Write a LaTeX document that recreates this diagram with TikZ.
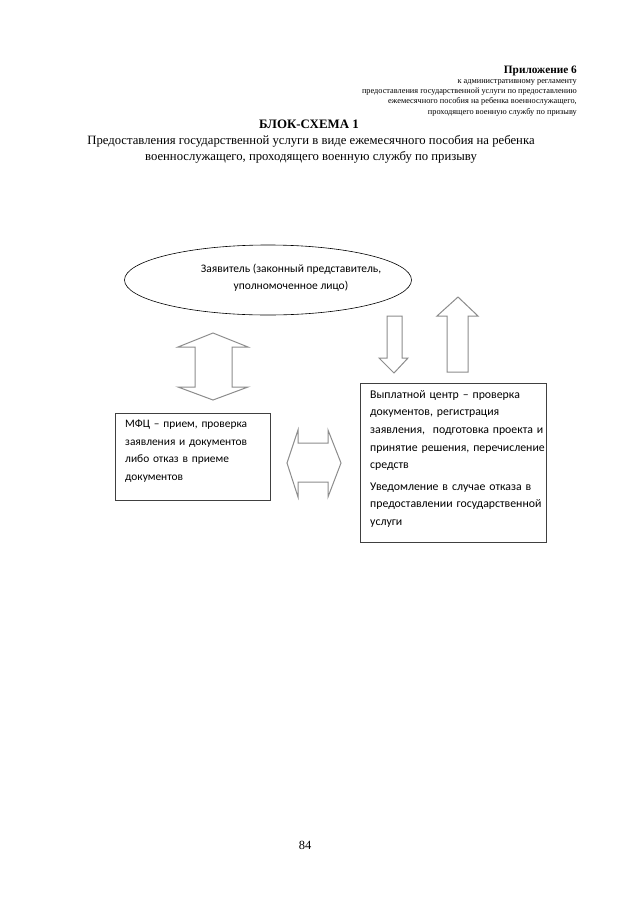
\documentclass[tikz,border=0pt]{standalone}
\usepackage{fontspec}
\setmainfont{Liberation Serif}
\newfontfamily\boxfont{Carlito}
\usetikzlibrary{shapes.geometric, positioning}
\definecolor{FrameGray}{rgb}{0.25, 0.25, 0.25}
\definecolor{ArrowGray}{rgb}{0.55, 0.55, 0.55}

\begin{document}
\begin{tikzpicture}[
    x=1pt, y=-1pt,
    frame/.style={draw=FrameGray, line width=0.7pt, inner sep=0pt, anchor=north west},
    boxtext/.style={anchor=north west, inner sep=0pt, align=left, text width=175pt,
        font=\boxfont\fontsize{11.8}{17.7}\selectfont},
    hollow/.style={draw=ArrowGray, line width=1pt, fill=white, line join=miter},
]
\useasboundingbox (0,0) rectangle (640,905);

% ---- header ----
\node[anchor=east, inner sep=0pt, font=\bfseries\fontsize{11.3}{12}\selectfont] (annex) at (577,71) {Приложение 6};
\node[anchor=north east, inner sep=0pt, align=right, font=\fontsize{8.3}{10.3}\selectfont] (annexnote) at (577,79)
    {к административному регламенту\\
     предоставления государственной услуги по предоставлению\\
     ежемесячного пособия на ребенка военнослужащего,\\
     проходящего военную службу по призыву};

\node[inner sep=0pt, font=\bfseries\fontsize{12.9}{14}\selectfont] (heading) at (309,124) {БЛОК-СХЕМА 1};
\node[inner sep=0pt, align=center, font=\fontsize{12.7}{16}\selectfont] (subtitle) at (311,149)
    {Предоставления государственной услуги в виде ежемесячного пособия на ребенка\\
     военнослужащего, проходящего военную службу по призыву};

% ---- заявитель ----
\node[draw, ellipse, line width=0.6pt, minimum width=287pt, minimum height=70pt, inner sep=0pt] (applicant) at (268,280) {};
\node[inner sep=0pt, align=center, font=\boxfont\fontsize{11.5}{17}\selectfont] (applicanttext) at (291,278)
    {Заявитель (законный представитель,\\ уполномоченное лицо)};

% ---- МФЦ ----
\node[frame, minimum width=155pt, minimum height=87pt] (mfc) at (115,413) {};
\node[boxtext, text width=140pt, font=\boxfont\fontsize{11.4}{17.5}\selectfont] (mfctext) at (125,420)
    {МФЦ – прием, проверка\\ заявления и документов\\ либо отказ в приеме\\ документов};

% ---- выплатной центр ----
\node[frame, minimum width=186pt, minimum height=159pt] (center) at (360,383) {};
\node[boxtext] (centertext) at (370,390)
    {Выплатной центр – проверка\\ документов, регистрация\\ заявления,\ \ подготовка проекта и\\
     принятие решения, перечисление\\ средств\\[3.5pt]
     Уведомление в случае отказа в\\ предоставлении государственной\\ услуги};

% ---- стрелки ----
\draw[hollow] (213,333) -- (248,347) -- (232,347) -- (232,387) -- (248,387) -- (213,400)
    -- (178,387) -- (195,387) -- (195,347) -- (178,347) -- cycle;
\draw[hollow] (387,316) -- (402,316) -- (402,358) -- (408,358) -- (394,373) -- (379,358) -- (387,358) -- cycle;
\draw[hollow] (447,372) -- (447,316) -- (437,316) -- (458,297) -- (478,316) -- (468,316) -- (468,372) -- cycle;
\draw[hollow] (287,463) -- (298,430) -- (298,443) -- (328,443) -- (328,430) -- (341,463)
    -- (328,497) -- (328,482) -- (298,482) -- (298,497) -- cycle;

\node[inner sep=0pt, font=\fontsize{12.5}{14}\selectfont] (pageno) at (305,845) {84};

\end{tikzpicture}
\end{document}
